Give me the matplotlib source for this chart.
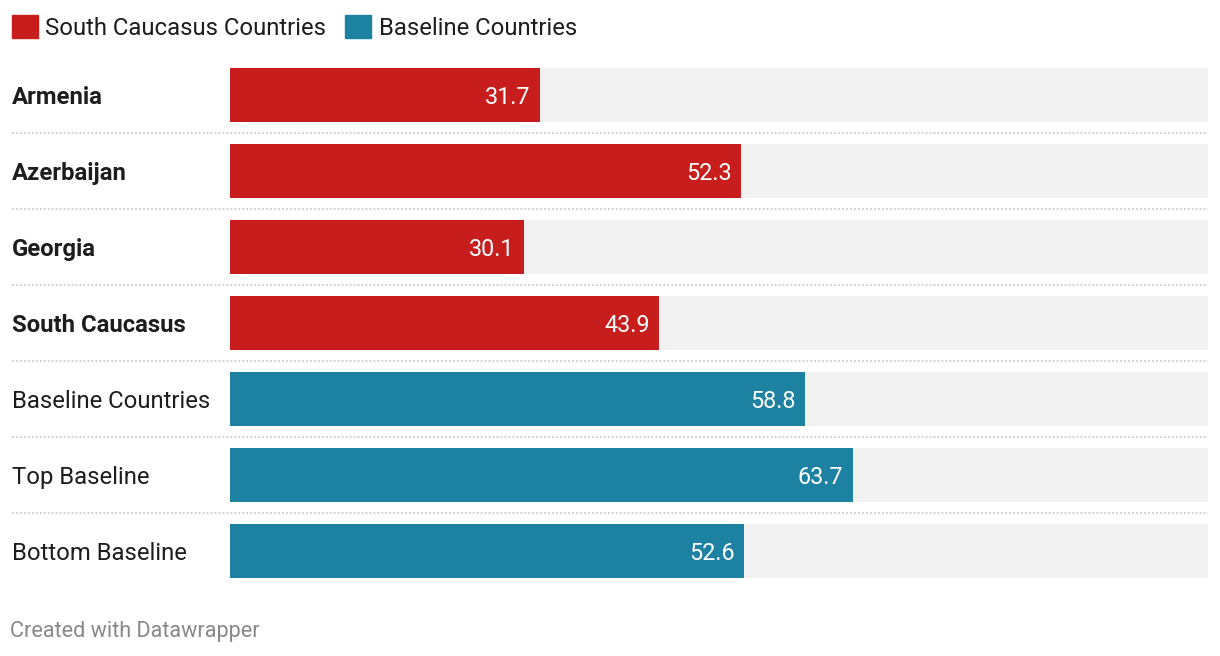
import matplotlib.pyplot as plt
import matplotlib.patches as mpatches
from matplotlib.transforms import blended_transform_factory

plt.rcParams["font.family"] = ["Roboto", "DejaVu Sans"]

categories = [
    "Armenia",
    "Azerbaijan",
    "Georgia",
    "South Caucasus",
    "Baseline Countries",
    "Top Baseline",
    "Bottom Baseline",
]
values = [31.7, 52.3, 30.1, 43.9, 58.8, 63.7, 52.6]
groups = ["South Caucasus Countries"] * 4 + ["Baseline Countries"] * 3
bold_rows = [True, True, True, True, False, False, False]

group_colors = {
    "South Caucasus Countries": "#c71e1d",
    "Baseline Countries": "#1d81a2",
}

W, H = 1220, 656
fig = plt.figure(figsize=(W / 100, H / 100), dpi=100)

# bars area: x 230..1208 px, rows from y=57 to 589 px
ax = fig.add_axes([230 / W, (H - 589) / H, 978 / W, 532 / H])
ax.set_xlim(0, 100)
ax.set_ylim(len(categories) - 0.5, -0.5)
ax.axis("off")

ys = list(range(len(categories)))
bar_h = 54 / 76

ax.barh(ys, [100] * len(ys), height=bar_h, color="#f2f2f2", zorder=1)
ax.barh(ys, values, height=bar_h,
        color=[group_colors[g] for g in groups], zorder=2)

for y, v in zip(ys, values):
    ax.text(v - 1.0, y, f"{v:.1f}", color="white", fontsize=16.8,
            ha="right", va="center_baseline", zorder=3)

trans = blended_transform_factory(fig.transFigure, ax.transData)
for y, name, b in zip(ys, categories, bold_rows):
    ax.text(12 / W, y, name, transform=trans, fontsize=17.2,
            fontweight="bold" if b else "normal", color="#1d1d1d",
            ha="left", va="center_baseline")

# dotted separators between rows
for y in ys[:-1]:
    ax.plot([12 / W, 1208 / W], [y + 0.5, y + 0.5], transform=trans,
            color="#cccccc", linestyle=(0, (1, 1.2)), linewidth=1.3,
            clip_on=False, zorder=1)

# legend
handles = [mpatches.Patch(color=c, label=g) for g, c in group_colors.items()]
fig.legend(handles=handles, loc="upper left", bbox_to_anchor=(2 / W, 1 - 5 / H),
           ncol=2, frameon=False, fontsize=17.2, handlelength=1.1,
           handleheight=1.15, handletextpad=0.3, columnspacing=0.8,
           borderaxespad=0, labelcolor="#1d1d1d")

fig.text(10 / W, 1 - 631 / H, "Created with Datawrapper", fontsize=15.6,
         color="#888888", ha="left", va="center")

plt.savefig("out.png", dpi=100)
